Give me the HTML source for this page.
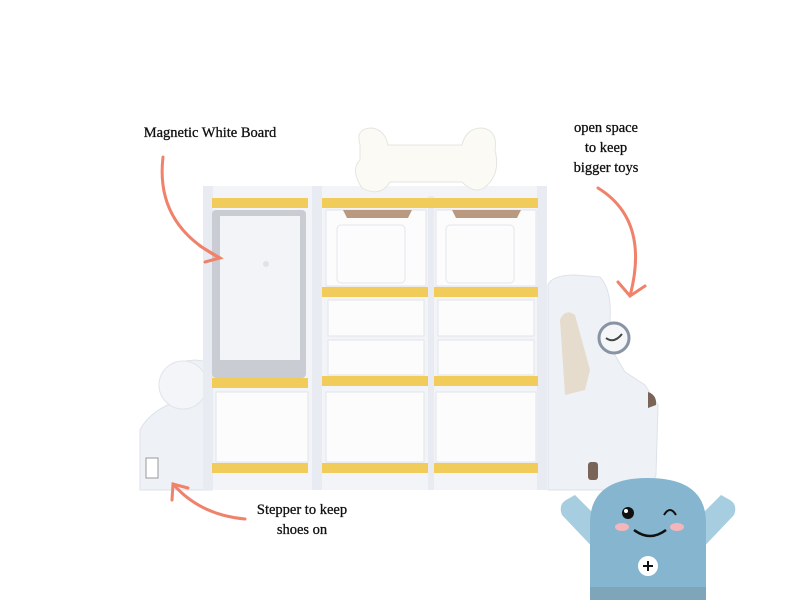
<!DOCTYPE html><html><head><style>
body{margin:0;width:800px;height:600px;background:#fff;position:relative;overflow:hidden;font-family:"Liberation Serif",serif;}
.t{position:absolute;color:#111;font-size:14.5px;text-align:center;line-height:20px;-webkit-text-stroke:0.3px #111}
.a{position:absolute}
</style></head><body>
<svg class="a" style="left:0;top:0" width="800" height="600">
<path d="M140,490 L140,430 Q150,410 180,400 L170,380 Q165,362 195,360 L212,362 L212,490 Z" fill="#eef1f6" stroke="#dde2ea"/>
<circle cx="183" cy="385" r="24" fill="#f3f5f9" stroke="#e0e4ec"/>
<rect x="146" y="458" width="12" height="20" fill="#fff" stroke="#999"/>
<path d="M548,490 L548,285 Q552,275 575,275 L600,277 Q612,290 610,320 L615,355 L625,372 L645,385 L658,405 L656,475 L650,490 Z" fill="#eef1f6" stroke="#dde2ea"/>
<path d="M560,320 Q565,308 575,315 L590,370 L585,390 L565,395 Z" fill="#e6dccd"/>
<circle cx="614" cy="338" r="15" fill="#f4f6f8" stroke="#8893a3" stroke-width="3"/>
<path d="M606,338 Q614,344 622,334" stroke="#444" stroke-width="2" fill="none"/>
<path d="M648,392 Q657,395 656,405 L648,408 Z" fill="#7a6458"/>
<rect x="588" y="462" width="10" height="18" rx="3" fill="#7a6458"/>
<rect x="203" y="186" width="342" height="304" fill="#f3f4f7"/>
<rect x="203" y="186" width="10" height="304" fill="#e8ebf1"/>
<rect x="312" y="186" width="10" height="304" fill="#e8ebf1"/>
<rect x="428" y="196" width="6" height="294" fill="#e8ebf1"/>
<rect x="537" y="186" width="10" height="304" fill="#e8ebf1"/>
<g fill="#f2cc5a">
<rect x="212" y="198" width="96" height="10"/><rect x="322" y="198" width="216" height="10"/>
<rect x="212" y="378" width="96" height="10"/>
<rect x="322" y="287" width="106" height="10"/><rect x="434" y="287" width="104" height="10"/>
<rect x="322" y="376" width="106" height="10"/><rect x="434" y="376" width="104" height="10"/>
<rect x="212" y="463" width="96" height="10"/><rect x="322" y="463" width="106" height="10"/><rect x="434" y="463" width="104" height="10"/>
</g>
<path d="M360,145 Q355,128 372,128 Q385,130 388,145 L462,145 Q466,128 482,128 Q498,130 495,150 Q500,170 490,182 Q478,198 462,182 L390,182 Q380,198 362,188 Q350,170 360,160 Z" fill="#fbfaf5" stroke="#e5e5e0"/>
<rect x="212" y="210" width="94" height="168" rx="4" fill="#c9ccd3"/>
<rect x="220" y="216" width="80" height="144" fill="#f2f4f8"/>
<circle cx="266" cy="264" r="3" fill="#dfe2e8"/>
<g fill="#fcfcfd" stroke="#e2e5ea">
<rect x="326" y="210" width="100" height="76"/><rect x="436" y="210" width="100" height="76"/>
<rect x="328" y="300" width="96" height="36"/><rect x="438" y="300" width="96" height="36"/>
<rect x="328" y="340" width="96" height="35"/><rect x="438" y="340" width="96" height="35"/>
<rect x="216" y="392" width="92" height="70"/><rect x="326" y="392" width="98" height="70"/><rect x="436" y="392" width="100" height="70"/>
</g>
<path d="M343,210 L412,210 L408,218 L347,218 Z" fill="#b99a80"/>
<path d="M452,210 L521,210 L517,218 L456,218 Z" fill="#b99a80"/>
<rect x="337" y="225" width="68" height="58" rx="4" fill="none" stroke="#e3e6eb"/>
<rect x="446" y="225" width="68" height="58" rx="4" fill="none" stroke="#e3e6eb"/>
<g stroke="#f0826b" stroke-width="3" fill="none" stroke-linecap="round">
<path d="M163,157 Q155,225 220,258"/><path d="M200,246 L220,258 L205,262"/>
<path d="M598,188 Q650,220 630,296"/><path d="M618,282 L630,296 L645,286"/>
<path d="M245,519 Q200,515 173,484"/><path d="M172,500 L173,484 L188,488"/>
</g>
<path d="M600,555 L562,515 Q558,505 566,500 L575,495 L600,520 Z" fill="#a7cde0"/>
<path d="M696,555 L734,515 Q738,505 730,500 L721,495 L696,520 Z" fill="#a7cde0"/>
<path d="M590,600 L590,520 Q592,478 648,478 Q704,478 706,520 L706,600 Z" fill="#86b5cf"/>
<rect x="590" y="587" width="116" height="13" fill="#7fa6b8"/>
<circle cx="628" cy="513" r="6" fill="#111"/><circle cx="626" cy="511" r="2" fill="#fff"/>
<path d="M664,515 Q670,505 676,515" stroke="#111" stroke-width="2" fill="none"/>
<ellipse cx="622" cy="527" rx="7" ry="4" fill="#f3b6bb"/><ellipse cx="677" cy="527" rx="7" ry="4" fill="#f3b6bb"/>
<path d="M634,530 Q650,542 666,530" stroke="#111" stroke-width="2.5" fill="none"/>
<circle cx="648" cy="566" r="10" fill="#fff"/>
<path d="M643,566 H653 M648,561 V571" stroke="#111" stroke-width="2"/>
</svg>
<div class="t" style="left:110px;top:123px;width:200px">Magnetic White Board</div>
<div class="t" style="left:546px;top:118px;width:120px">open space<br>to keep<br>bigger toys</div>
<div class="t" style="left:232px;top:500px;width:140px">Stepper to keep<br>shoes on</div>
</body></html>
